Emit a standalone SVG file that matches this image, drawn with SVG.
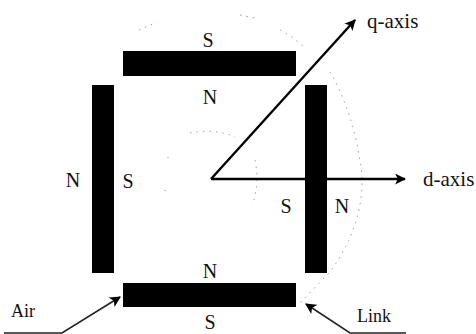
<svg xmlns="http://www.w3.org/2000/svg" width="476" height="334" viewBox="0 0 476 334">
<defs>
<style>
text{font-family:"Liberation Serif","Times New Roman",serif;font-size:20px;fill:#111}
.c{text-anchor:middle}
.bar{fill:#000}
.ln{stroke:#000;stroke-width:2.4;fill:none}
.thin{stroke:#222;stroke-width:1.6;fill:none}
.dot{stroke:#999;stroke-width:1;fill:none;stroke-dasharray:1.5 5}
.sm{font-size:18px}
.ax{font-size:21px}
</style>
<marker id="ah" viewBox="0 0 10 10" refX="9" refY="5" markerWidth="11" markerHeight="11" markerUnits="userSpaceOnUse" orient="auto"><path d="M0 0L10 5L0 10L2.5 5Z" fill="#000"/></marker>
</defs>
<g id="flux-circles">
<path class="dot" d="M139 30L157 22"/>
<path class="dot" d="M240 15L255 18"/>
<path class="dot" d="M280 30Q295 38 306 49"/>
<path class="dot" d="M330 72Q355 115 362 175Q364 225 330 272L300 303"/>
<path class="dot" d="M190 133Q215 128 235 137"/>
<path class="dot" d="M255 160Q260 185 252 205"/>
<path class="dot" d="M168 157L168 158M165 190L165 191"/>
</g>
<g id="magnet-top"><rect class="bar" x="123" y="51" width="173" height="25"/><text class="c" x="208" y="47">S</text><text class="c" x="210" y="104">N</text></g>
<g id="magnet-left"><rect class="bar" x="92" y="85" width="22" height="188"/><text class="c" x="73" y="187">N</text><text class="c" x="128" y="188">S</text></g>
<g id="magnet-right"><rect class="bar" x="305" y="85" width="22" height="188"/><text class="c" x="286" y="213">S</text><text class="c" x="342" y="213">N</text></g>
<g id="magnet-bottom"><rect class="bar" x="123" y="283" width="173" height="24"/><text class="c" x="210" y="278">N</text><text class="c" x="210" y="329">S</text></g>
<g id="connectors">
<path class="ln" d="M211 179L355 20" marker-end="url(#ah)"/>
<path class="ln" d="M211 179H405" marker-end="url(#ah)"/>
<path class="thin" d="M4 333H62L120 297" marker-end="url(#ah)"/>
<path class="thin" d="M406 333H350L306 304" marker-end="url(#ah)"/>
</g>
<g id="label-q"><text class="ax" x="367" y="28">q-axis</text></g>
<g id="label-d"><text class="ax" x="423" y="186">d-axis</text></g>
<g id="label-air"><text class="sm" x="11" y="317">Air</text></g>
<g id="label-link"><text class="sm" x="357" y="322">Link</text></g>
</svg>
